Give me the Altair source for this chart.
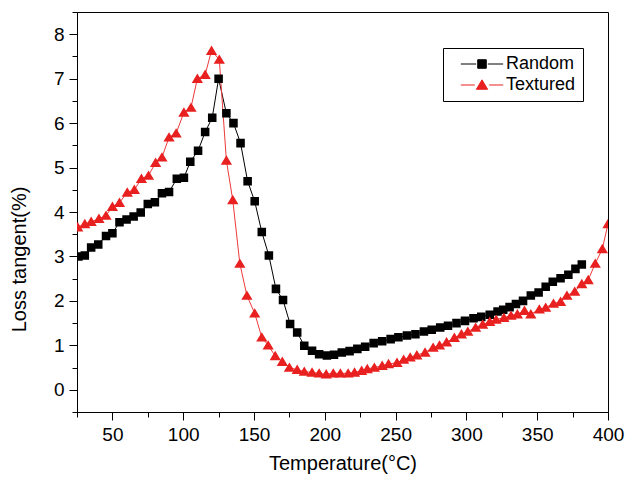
import altair as alt
import pandas as pd

# ---- data ----
random_t = [26, 30.5, 35, 40, 45.5, 50, 55, 60, 65, 70, 75, 80, 85, 90, 95.5, 100.5,
            105, 110.5, 115.5, 120.5, 125, 130.5, 135.5, 140.5, 145.5, 150.5, 155.5,
            160.5, 165.5, 170.5, 175.5, 180.5, 185.5, 191, 196, 201.5, 206.5, 212,
            217.5, 223, 228.5, 234.5, 240.5, 246.5, 252, 258, 264, 270, 275.5, 281.5,
            287, 293, 299, 305, 310.5, 316.5, 322, 326, 330.5, 335, 340, 345.5, 351,
            356, 361, 366.5, 372, 377, 381.5]
random_v = [3.0, 3.02, 3.2, 3.27, 3.46, 3.52, 3.77, 3.83, 3.9, 3.99, 4.18, 4.22, 4.42,
            4.45, 4.75, 4.77, 5.13, 5.38, 5.8, 6.12, 7.0, 6.22, 6.0, 5.55, 4.69, 4.24,
            3.55, 3.02, 2.27, 2.02, 1.48, 1.29, 0.99, 0.88, 0.80, 0.77, 0.79, 0.84,
            0.87, 0.92, 0.97, 1.05, 1.09, 1.14, 1.18, 1.22, 1.25, 1.31, 1.35, 1.40,
            1.44, 1.50, 1.55, 1.61, 1.64, 1.69, 1.76, 1.80, 1.86, 1.93, 2.0, 2.12,
            2.19, 2.32, 2.43, 2.51, 2.59, 2.72, 2.82]

textured_t = [25.5, 30.5, 35, 40.5, 45.5, 50, 55, 60.5, 65.5, 70.5, 75.5, 80.5, 85, 90,
              95, 100.5, 105.5, 110, 115.5, 120, 125.5, 130.5, 135, 140, 145, 150.5,
              155.5, 160, 165, 170, 175, 180.5, 185.5, 191, 196, 201, 206, 211, 216.5,
              221, 226, 230, 235, 240.5, 245, 251, 255.7, 260.3, 265, 270.8, 276.5,
              281, 286, 291.5, 296.5, 301, 306.5, 311.5, 316.5, 321, 326.5, 331.5, 336,
              341, 345.5, 351.5, 356, 361.5, 366.5, 371, 376.5, 381.5, 386, 391, 396,
              400]
textured_v = [3.66, 3.73, 3.78, 3.85, 3.92, 4.12, 4.21, 4.44, 4.5, 4.75, 4.82, 5.11,
              5.23, 5.68, 5.77, 6.24, 6.35, 7.0, 7.09, 7.63, 7.43, 5.16, 4.27, 2.84,
              2.12, 1.72, 1.18, 1.0, 0.76, 0.63, 0.5, 0.45, 0.41, 0.39, 0.37, 0.35,
              0.37, 0.37, 0.37, 0.39, 0.43, 0.47, 0.5, 0.54, 0.58, 0.61, 0.68, 0.73,
              0.78, 0.84, 0.95, 1.0, 1.07, 1.17, 1.25, 1.31, 1.40, 1.47, 1.53, 1.58,
              1.62, 1.67, 1.70, 1.78, 1.70, 1.81, 1.85, 1.94, 1.98, 2.12, 2.21, 2.38,
              2.47, 2.84, 3.17, 3.73]

series_names = ["Random", "Textured"]
series_colors = ["#000000", "#e8201f"]
line_colors = ["#000000", "#ee3a3a"]
x_major = [50 * i for i in range(1, 9)]           # 50 .. 400
x_minor = [25 + 50 * i for i in range(8)]         # 25 .. 375
y_major = list(range(0, 9))                       # 0 .. 8
y_minor = [0.5 * i for i in range(-1, 18, 2)]     # -0.5 .. 8.5

FONT = "Liberation Sans"

rows = []
for t, v in zip(random_t, random_v):
    rows.append({"T": t, "v": v, "series": "Random"})
for t, v in zip(textured_t, textured_v):
    rows.append({"T": t, "v": v, "series": "Textured"})
df = pd.DataFrame(rows)
df["order"] = range(len(df))

# marker shapes with "line" stubs: the stubs have no area, so they only show
# where the symbol is stroked (in the legend), not on the filled plot markers
path_square = "M-4.7,0L-1.3,0M1.3,0L4.7,0M-0.95,-0.95L0.95,-0.95L0.95,0.95L-0.95,0.95Z"
path_triangle = "M-4.7,0L-1.6,0M1.6,0L4.7,0M0,-1.15L1.25,0.95L-1.25,0.95Z"

xscale = alt.Scale(domain=[25, 400], nice=False, zero=False)
yscale = alt.Scale(domain=[-0.5, 8.5], nice=False, zero=False)
color_scale = alt.Scale(domain=series_names, range=series_colors)

x_enc = alt.X(
    "T:Q", scale=xscale,
    axis=alt.Axis(orient="bottom", values=x_major, tickSize=8, labelPadding=5, labelFlush=False,
                  title="Temperature(°C)", titleY=41),
)
y_enc = alt.Y(
    "v:Q", scale=yscale,
    axis=alt.Axis(orient="left", values=y_major, tickSize=8, labelPadding=5,
                  title="Loss tangent(%)", titleX=-48, titleY=247),
)
x_enc_minor = alt.X("T:Q", scale=xscale,
                    axis=alt.Axis(orient="bottom", values=x_minor, tickSize=5, labels=False,
                                  title=None, domain=False))
y_enc_minor = alt.Y("v:Q", scale=yscale,
                    axis=alt.Axis(orient="left", values=y_minor, tickSize=5, labels=False,
                                  title=None, domain=False))
x_enc_none = alt.X("T:Q", scale=xscale, axis=None)
y_enc_none = alt.Y("v:Q", scale=yscale, axis=None)

base = alt.Chart(df)

line_random = base.transform_filter(alt.datum.series == "Random").mark_line(
    strokeWidth=1, color=line_colors[0], clip=True
).encode(x=x_enc, y=y_enc, order="order:Q")

line_textured = base.transform_filter(alt.datum.series == "Textured").mark_line(
    strokeWidth=1, color=line_colors[1], clip=True
).encode(x=x_enc_none, y=y_enc_none, order="order:Q")

leg = alt.Legend(
    title=None, orient="none", legendX=366, legendY=36,
    padding=7, symbolOffset=23, labelOffset=15, rowPadding=3,
    strokeColor="black", symbolSize=81, symbolOpacity=1, symbolStrokeWidth=1,
    labelFont=FONT, labelFontSize=18, labelColor="black",
)

points = base.mark_point(filled=True, size=81, opacity=1, strokeWidth=0, clip=True).encode(
    x=x_enc_minor,
    y=y_enc_minor,
    fill=alt.Fill("series:N", scale=color_scale, legend=leg),
    stroke=alt.Stroke("series:N", scale=color_scale, legend=leg),
    shape=alt.Shape("series:N", scale=alt.Scale(domain=series_names, range=[path_square, path_triangle]), legend=leg),
    order="order:Q",
)

chart = (
    alt.layer(line_random, line_textured, points)
    .resolve_axis(x="independent", y="independent")
    .properties(
        width=531, height=400,
        autosize=alt.AutoSizeParams(type="none"),
        padding={"left": 69, "top": 4, "right": 17, "bottom": 66},
        background="white",
    )
    .configure_view(stroke="black", strokeWidth=1)
    .configure_axis(
        grid=False, domainColor="black", domainWidth=1, tickColor="black", tickWidth=1,
        labelColor="black", titleColor="black", labelFont=FONT, titleFont=FONT,
        labelFontSize=19, titleFontSize=20, titleFontWeight="normal",
    )
)

chart.save("out.html", embed_options={"renderer": "svg", "actions": False})
